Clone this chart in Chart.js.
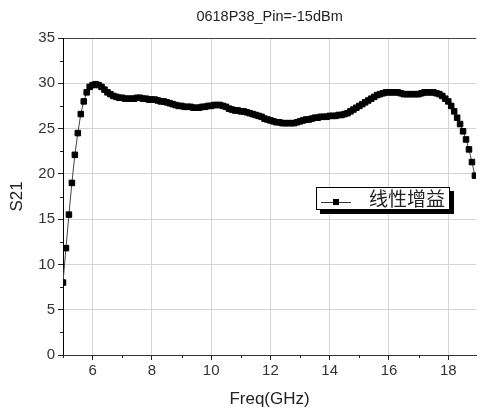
<!DOCTYPE html>
<html><head><meta charset="utf-8">
<script src="https://cdn.jsdelivr.net/npm/chart.js@4"></script>
<style>html,body{margin:0;padding:0;background:#fff;overflow:hidden;}</style>
</head><body>
<canvas id="c" width="481" height="412"></canvas>
<script>
const titleText = '0618P38_Pin=-15dBm';
const xTitle = 'Freq(GHz)';
const yTitle = 'S21';
const seriesName = '线性增益';

const freq = [
 5.0,5.1,5.2,5.3,5.4,5.5,5.6,5.7,5.8,5.9,
 6.0,6.1,6.2,6.3,6.4,6.5,6.6,6.7,6.8,6.9,
 7.0,7.1,7.2,7.3,7.4,7.5,7.6,7.7,7.8,7.9,
 8.0,8.1,8.2,8.3,8.4,8.5,8.6,8.7,8.8,8.9,
 9.0,9.1,9.2,9.3,9.4,9.5,9.6,9.7,9.8,9.9,
 10.0,10.1,10.2,10.3,10.4,10.5,10.6,10.7,10.8,10.9,
 11.0,11.1,11.2,11.3,11.4,11.5,11.6,11.7,11.8,11.9,
 12.0,12.1,12.2,12.3,12.4,12.5,12.6,12.7,12.8,12.9,
 13.0,13.1,13.2,13.3,13.4,13.5,13.6,13.7,13.8,13.9,
 14.0,14.1,14.2,14.3,14.4,14.5,14.6,14.7,14.8,14.9,
 15.0,15.1,15.2,15.3,15.4,15.5,15.6,15.7,15.8,15.9,
 16.0,16.1,16.2,16.3,16.4,16.5,16.6,16.7,16.8,16.9,
 17.0,17.1,17.2,17.3,17.4,17.5,17.6,17.7,17.8,17.9,
 18.0,18.1,18.2,18.3,18.4,18.5,18.6,18.7,18.8,18.9
];
const s21 = [
 8.0,11.8,15.5,19.0,22.1,24.5,26.6,28.0,29.0,29.6,
 29.8,29.9,29.8,29.6,29.3,29.0,28.8,28.6,28.5,28.4,
 28.4,28.3,28.3,28.3,28.3,28.4,28.4,28.3,28.3,28.2,
 28.2,28.2,28.1,28.0,28.0,27.9,27.8,27.7,27.6,27.5,
 27.5,27.4,27.4,27.4,27.3,27.3,27.3,27.4,27.4,27.5,
 27.5,27.6,27.6,27.6,27.5,27.4,27.2,27.1,27.0,27.0,
 26.9,26.9,26.8,26.7,26.6,26.5,26.4,26.3,26.1,26.0,
 25.9,25.8,25.7,25.7,25.6,25.6,25.6,25.6,25.6,25.7,
 25.8,25.9,26.0,26.0,26.1,26.2,26.2,26.3,26.3,26.3,
 26.4,26.4,26.4,26.5,26.5,26.6,26.7,26.9,27.1,27.3,
 27.5,27.7,27.9,28.1,28.3,28.5,28.7,28.8,28.9,29.0,
 29.0,29.0,29.0,29.0,28.9,28.8,28.8,28.8,28.8,28.8,
 28.8,28.9,29.0,29.0,29.0,29.0,28.9,28.8,28.6,28.3,
 28.0,27.5,26.9,26.2,25.5,24.7,23.8,22.7,21.3,19.8
];

const xMajorTicks = [6, 8, 10, 12, 14, 16, 18];
const xMinorTicks = [5, 7, 9, 11, 13, 15, 17];
const yMajorTicks = [0, 5, 10, 15, 20, 25, 30, 35];
const yMinorTicks = [2.5, 7.5, 12.5, 17.5, 22.5, 27.5, 32.5];

const FONT = "'Liberation Sans', Arial, sans-serif";

const decor = {
  id: 'decor',
  afterDraw(chart) {
    const ctx = chart.ctx;
    const area = chart.chartArea;
    const xs = chart.scales.x, ys = chart.scales.y;
    ctx.save();
    // title
    ctx.fillStyle = '#222';
    ctx.font = '14.5px ' + FONT;
    ctx.textAlign = 'center';
    ctx.textBaseline = 'middle';
    ctx.fillText(titleText, (area.left + area.right) / 2, 17);
    // minor ticks
    ctx.strokeStyle = '#222';
    ctx.lineWidth = 1;
    ctx.beginPath();
    xMinorTicks.forEach(v => {
      const px = Math.round(xs.getPixelForValue(v)) + 0.5;
      ctx.moveTo(px, area.bottom);
      ctx.lineTo(px, area.bottom + 3);
    });
    yMinorTicks.forEach(v => {
      const py = Math.round(ys.getPixelForValue(v)) + 0.5;
      ctx.moveTo(area.left - 3, py);
      ctx.lineTo(area.left, py);
    });
    ctx.stroke();
    // legend box
    const bx = 316, by = 187, bw = 134, bh = 23;
    ctx.fillStyle = '#000';
    ctx.fillRect(bx + 4, by + 4, bw, bh);
    ctx.fillStyle = '#fff';
    ctx.fillRect(bx, by, bw, bh);
    ctx.strokeStyle = '#000';
    ctx.strokeRect(bx + 0.5, by + 0.5, bw - 1, bh - 1);
    ctx.strokeStyle = '#333';
    ctx.beginPath();
    ctx.moveTo(321, 202.5);
    ctx.lineTo(351, 202.5);
    ctx.stroke();
    ctx.fillStyle = '#000';
    ctx.fillRect(333, 199, 6, 6);
    ctx.fillStyle = '#222';
    ctx.font = "19px 'Noto Sans CJK SC', sans-serif";
    ctx.textAlign = 'left';
    ctx.textBaseline = 'middle';
    ctx.fillText(seriesName, 369, 199);
    ctx.restore();
  }
};

new Chart(document.getElementById('c'), {
  type: 'scatter',
  data: {
    datasets: [{
      label: seriesName,
      data: freq.map((f, i) => ({ x: f, y: s21[i] })),
      showLine: true,
      borderColor: '#444',
      borderWidth: 1,
      pointStyle: 'rect',
      pointRadius: 3.9,
      pointHoverRadius: 3.9,
      pointBackgroundColor: '#000',
      pointBorderColor: '#000',
      pointBorderWidth: 1,
      tension: 0,
      clip: 0
    }]
  },
  options: {
    responsive: false,
    animation: false,
    devicePixelRatio: 1,
    layout: { padding: { top: 38, right: 0, left: 0, bottom: 0 } },
    plugins: { legend: { display: false }, title: { display: false }, tooltip: { enabled: false } },
    scales: {
      x: {
        type: 'linear',
        min: 5,
        max: 18.94,
        afterBuildTicks: s => { s.ticks = xMajorTicks.map(v => ({ value: v })); },
        afterFit: s => { s.height = 57; },
        grid: { color: '#d4d4d4', tickColor: '#222', tickLength: 5, lineWidth: 1 },
        border: { color: '#333', width: 1 },
        ticks: { font: { family: FONT, size: 15 }, color: '#333', padding: 2, maxRotation: 0, autoSkip: false },
        title: { display: true, text: xTitle, font: { family: FONT, size: 17 }, color: '#222', padding: { top: 0, bottom: 2 } }
      },
      y: {
        min: 0,
        max: 35,
        afterBuildTicks: s => { s.ticks = yMajorTicks.map(v => ({ value: v })); },
        afterFit: s => { s.width = 63; },
        grid: {
          color: c => c.tick && c.tick.value === 35 ? '#444' : (c.tick && c.tick.value === 0 ? 'rgba(0,0,0,0)' : '#d4d4d4'),
          tickColor: '#222', tickLength: 5, lineWidth: 1
        },
        border: { color: '#000', width: 1 },
        ticks: { font: { family: FONT, size: 15 }, color: '#333', padding: 3 },
        title: { display: true, text: yTitle, font: { family: FONT, size: 17 }, color: '#222', padding: { top: 7.5, bottom: 0 } }
      }
    }
  },
  plugins: [decor]
});
</script>
</body></html>
